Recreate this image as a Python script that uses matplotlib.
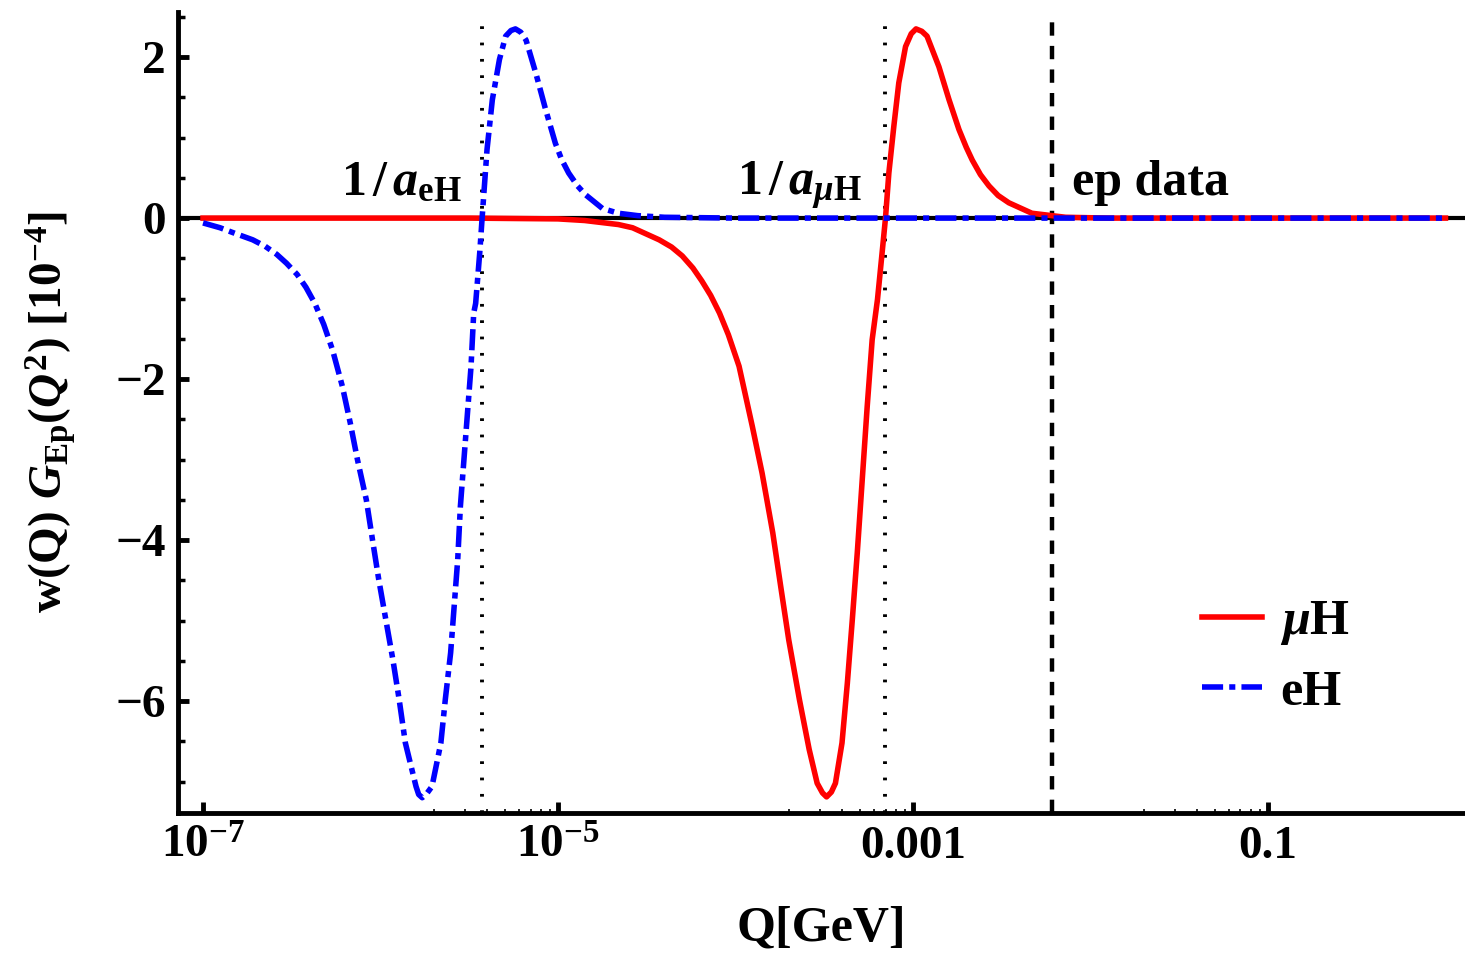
import numpy as np
import matplotlib
matplotlib.use('Agg')
import matplotlib.pyplot as plt
from matplotlib.ticker import FixedLocator, FixedFormatter, MultipleLocator

plt.rcParams['font.family'] = ['Liberation Serif', 'DejaVu Serif']
plt.rcParams['font.weight'] = 'bold'
plt.rcParams['axes.labelweight'] = 'bold'
plt.rcParams['mathtext.fontset'] = 'custom'
plt.rcParams['mathtext.rm'] = 'Liberation Serif:bold'
plt.rcParams['mathtext.it'] = 'Liberation Serif:italic:bold'
plt.rcParams['mathtext.bf'] = 'Liberation Serif:bold'

# eH curve: log10(Q/GeV) and w(Q) G_Ep(Q^2) in units of 1e-4
eh_logq = [-7.00, -6.904, -6.82, -6.72, -6.65, -6.585, -6.53, -6.47, -6.42, -6.37,
           -6.32, -6.27, -6.215, -6.17, -6.13, -6.08, -6.045, -6.01, -5.97, -5.93,
           -5.895, -5.86, -5.80, -5.785, -5.765, -5.74, -5.71, -5.66, -5.635, -5.605,
           -5.585, -5.565, -5.55, -5.53, -5.51, -5.49, -5.475, -5.464, -5.441, -5.427,
           -5.40, -5.37, -5.33, -5.295, -5.265, -5.24, -5.21, -5.18, -5.125, -5.07,
           -5.015, -4.98, -4.94, -4.89, -4.845, -4.75, -4.66, -4.55, -4.40, -4.0, 0.0]
eh_val = [-0.06, -0.12, -0.19, -0.27, -0.35, -0.45, -0.56, -0.70, -0.86, -1.06,
          -1.32, -1.64, -2.09, -2.55, -3.00, -3.50, -4.00, -4.49, -4.99, -5.49,
          -5.98, -6.52, -7.06, -7.16, -7.20, -7.15, -7.06, -6.52, -5.98, -5.40,
          -4.82, -4.24, -3.58, -3.00, -2.42, -1.84, -1.18, -1.06, -0.43, 0.02,
          0.85, 1.47, 1.97, 2.26, 2.33, 2.35, 2.31, 2.21, 1.80, 1.35,
          0.93, 0.73, 0.56, 0.40, 0.29, 0.12, 0.06, 0.03, 0.01, 0.0, 0.0]

# muH curve
mu_logq = [-7.00, -5.50, -5.00, -4.85, -4.66, -4.58, -4.43, -4.36, -4.30, -4.24,
           -4.19, -4.14, -4.09, -4.04, -3.98, -3.905, -3.85, -3.79, -3.745, -3.70,
           -3.64, -3.585, -3.54, -3.51, -3.487, -3.46, -3.437, -3.40, -3.37, -3.342,
           -3.314, -3.286, -3.258, -3.23, -3.20, -3.174, -3.155, -3.136, -3.108, -3.08,
           -3.042, -3.01, -2.983, -2.95, -2.921, -2.854, -2.797, -2.741, -2.70, -2.666,
           -2.62, -2.572, -2.52, -2.46, -2.33, -2.14, -1.9, 0.0]
mu_val = [0.0, 0.0, -0.01, -0.03, -0.08, -0.12, -0.27, -0.36, -0.47, -0.62,
          -0.78, -0.96, -1.18, -1.45, -1.84, -2.59, -3.17, -3.91, -4.58, -5.24,
          -5.98, -6.60, -7.02, -7.14, -7.19, -7.13, -7.02, -6.52, -5.78, -4.99,
          -4.16, -3.25, -2.34, -1.51, -1.01, -0.43, 0.0, 0.56, 1.14, 1.68,
          2.13, 2.29, 2.35, 2.32, 2.26, 1.88, 1.47, 1.10, 0.88, 0.72,
          0.54, 0.40, 0.28, 0.19, 0.06, 0.01, 0.0, 0.0]

inv_a_eH = 3.75e-6
inv_a_muH = 6.95e-4
ep_data = 6.1e-3

eh_q = 10 ** np.array(eh_logq)
mu_q = 10 ** np.array(mu_logq)

fig = plt.figure(figsize=(14.65, 9.55), dpi=100)
ax = fig.add_axes([178 / 1465, 1 - 813 / 955, 1 - 178 / 1465, 801 / 955])
ax.set_xscale('log')
ax.set_xlim(10 ** -7.141, 10 ** 0.110)
ax.set_ylim(-7.39, 2.56)

ax.axhline(0, color='black', lw=3, zorder=1)
ylo = ax.get_ylim()[0]
for xv in (inv_a_eH, inv_a_muH):
    ax.plot([xv, xv], [ylo, 2.5], color='black', lw=2.8, ls=(0, (0.7, 3.5)), zorder=2)
ax.plot([ep_data, ep_data], [ylo, 2.52], color='black', lw=3.2, ls=(0, (3.0, 2.3)), zorder=2)

ax.plot(mu_q, mu_val, color='red', lw=4.0, zorder=3, label=r'$\mu$H',
        solid_joinstyle='round')
ax.plot(eh_q, eh_val, color='blue', lw=4.0, ls=(0, (3.8, 1.1, 1.1, 1.1)), zorder=4,
        label='eH')

ax.text(2.88e-6, 0.29, r'$1\,/\,a_{\rm eH}$', ha='right', va='baseline', fontsize=36)
ax.text(5.16e-4, 0.29, r'$1\,/\,a_{\mu\rm H}$', ha='right', va='baseline', fontsize=36)
ax.text(7.87e-3, 0.29, 'ep data', ha='left', va='baseline', fontsize=36)

for s in ('top', 'right'):
    ax.spines[s].set_visible(False)
for s in ('left', 'bottom'):
    ax.spines[s].set_linewidth(3.5)

ax.xaxis.set_major_locator(FixedLocator([1e-7, 1e-5, 1e-3, 1e-1]))
ax.xaxis.set_major_formatter(FixedFormatter([r'$10^{-7}$', r'$10^{-5}$', '0.001', '0.1']))
minor = [k * 10.0 ** n for n in (-6, -4, -2) for k in range(2, 10)]
ax.xaxis.set_minor_locator(FixedLocator(minor))
ax.xaxis.set_minor_formatter(FixedFormatter([''] * len(minor)))
ax.yaxis.set_major_locator(FixedLocator([-6, -4, -2, 0, 2]))
ax.yaxis.set_minor_locator(MultipleLocator(0.5))

ax.tick_params(which='major', direction='in', length=8, width=3.5, labelsize=34, pad=9)
ax.tick_params(axis='x', which='minor', direction='in', length=3, width=1.2)
ax.tick_params(axis='y', which='minor', direction='in', length=5, width=2.5)

ax.set_xlabel('Q[GeV]', fontsize=36, fontweight='bold')
ax.xaxis.set_label_coords(0.5, -0.115)
ax.set_ylabel(r'w(Q) $G_{\rm Ep}(Q^2)$ [10$^{-4}$]', fontsize=34, fontweight='bold')
ax.yaxis.set_label_coords(-0.078, 0.5)

ax.legend(loc='center left', bbox_to_anchor=(0.796, 0.194), frameon=False, fontsize=36,
          handlelength=1.2, handletextpad=0.35, labelspacing=0.45, borderpad=0, borderaxespad=0)

fig.savefig('out.png', dpi=100)
